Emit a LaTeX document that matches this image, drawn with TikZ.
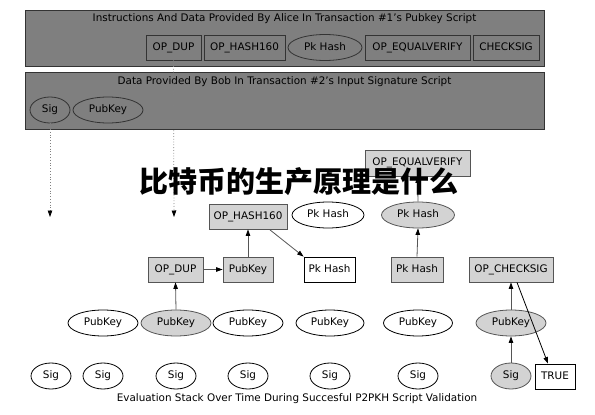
\documentclass[tikz,border=0pt]{standalone}
\usepackage{fontspec}
\setmainfont{DejaVu Sans}
\newfontfamily\cjk{Noto Sans CJK SC}
\usetikzlibrary{shapes.geometric,arrows.meta}
\definecolor{panel}{HTML}{7F7F7F}
\definecolor{panelline}{HTML}{333333}
\definecolor{lgray}{HTML}{D3D3D3}
\definecolor{edge}{HTML}{555555}
\tikzset{
  txt/.style={font=\fontsize{10.4}{12}\selectfont, text height=7.6pt, text depth=2pt},
  lbl/.style={txt, inner sep=0pt},
  panelbox/.style={draw=panelline, fill=panel, line width=0.8pt, inner sep=0pt},
  pbox/.style={txt, draw=panelline, fill=panel, line width=0.8pt, inner sep=0pt, minimum height=25pt},
  pell/.style={txt, ellipse, draw=panelline, fill=panel, line width=0.8pt, inner sep=0pt, minimum height=26pt},
  gbox/.style={txt, draw=edge, fill=lgray, line width=0.8pt, inner sep=0pt, minimum height=25pt},
  wbox/.style={txt, draw=black, fill=white, line width=0.8pt, inner sep=0pt, minimum height=25pt},
  gell/.style={txt, ellipse, draw=edge, fill=lgray, line width=0.8pt, inner sep=0pt, minimum height=26pt},
  well/.style={txt, ellipse, draw=black, fill=white, line width=0.8pt, inner sep=0pt, minimum height=26pt},
  arr/.style={draw=edge, line width=0.8pt, -{Triangle[length=6.5pt,width=4.5pt,fill=black,color=black]}},
  dotarr/.style={draw=gray, line width=0.8pt, dotted, -{Triangle[length=6.5pt,width=4.5pt,fill=black,color=black]}},
}
\begin{document}
\begin{tikzpicture}[x=1pt,y=-1pt]
\useasboundingbox (0,0) rectangle (595,415);
% panels
\node[panelbox, minimum width=519pt, minimum height=56pt] (alice) at (284.5,38) {};
\node[lbl] (alicet) at (284.5,18.5) {Instructions And Data Provided By Alice In Transaction \#1's Pubkey Script};
\node[pbox, minimum width=55pt] (adup) at (173.5,47.5) {OP\_DUP};
\node[pbox, minimum width=81pt] (ahash) at (244.5,47.5) {OP\_HASH160};
\node[pell, minimum width=74pt] (apkh) at (325,47.5) {Pk Hash};
\node[pbox, minimum width=105pt] (aeqv) at (417.5,47.5) {OP\_EQUALVERIFY};
\node[pbox, minimum width=66pt] (achk) at (506,47.5) {CHECKSIG};

\node[panelbox, minimum width=519pt, minimum height=57pt] (bob) at (284.5,100.5) {};
\node[lbl] (bobt) at (284.5,81.5) {Data Provided By Bob In Transaction \#2's Input Signature Script};
\node[pell, minimum width=40pt] (bsig) at (50,110) {Sig};
\node[pell, minimum width=70pt] (bpub) at (108,110) {PubKey};

\coordinate (d1) at (50,217);
\coordinate (d2) at (174,217);
\draw[dotarr] (bsig.south) -- (d1);
\draw[dotarr] (adup.south) -- (d2);

% evaluation stack
\node[gbox, minimum width=105pt, minimum height=26pt] (eqv) at (417.5,163) {OP\_EQUALVERIFY};
\node[gbox, minimum width=78pt] (h160) at (248,216.5) {OP\_HASH160};
\node[well, minimum width=72pt] (pkhe1) at (328,215) {Pk Hash};
\node[gell, minimum width=73pt] (pkhe2) at (418,215) {Pk Hash};

\node[gbox, minimum width=55pt] (dup) at (175.5,269.5) {OP\_DUP};
\node[gbox, minimum width=50pt] (pubb) at (248,269.5) {PubKey};
\node[wbox, minimum width=51pt] (pkhb1) at (329.5,269.5) {Pk Hash};
\node[gbox, minimum width=52pt] (pkhb2) at (417,269.5) {Pk Hash};
\node[gbox, minimum width=84pt] (chk) at (511,269.5) {OP\_CHECKSIG};

\node[well, minimum width=70pt] (p1) at (103,323) {PubKey};
\node[gell, minimum width=70pt] (p2) at (176,323) {PubKey};
\node[well, minimum width=70pt] (p3) at (248,323) {PubKey};
\node[well, minimum width=68pt] (p4) at (330,323) {PubKey};
\node[well, minimum width=69pt] (p5) at (418,323) {PubKey};
\node[gell, minimum width=70pt] (p6) at (511,323) {PubKey};

\node[well, minimum width=40pt] (s1) at (51,376) {Sig};
\node[well, minimum width=40pt] (s2) at (103,376) {Sig};
\node[well, minimum width=40pt] (s3) at (176,376) {Sig};
\node[well, minimum width=40pt] (s4) at (248,376) {Sig};
\node[well, minimum width=40pt] (s5) at (330,376) {Sig};
\node[well, minimum width=40pt] (s6) at (418,376) {Sig};
\node[gell, minimum width=40pt] (s7) at (511,376) {Sig};
\node[wbox, minimum width=40pt] (true) at (555,376.5) {TRUE};

\node[lbl] (cap) at (297,398.5) {Evaluation Stack Over Time During Succesful P2PKH Script Validation};

% edges
\draw[arr] (p2.north) -- (dup.south);
\draw[arr] (dup.east) -- (pubb.west);
\draw[arr] (pubb.north) -- (h160.south);
\draw[arr] (h160.south east) ++(-18,0) -- (pkhb1.north west);
\draw[arr] (pkhb2.north) -- (pkhe2.south);
\draw[arr] (pkhe2.north) -- (eqv.south);
\draw[arr] (s7.north) -- (p6.south);
\draw[arr] (p6.north) -- (chk.south);
\draw[arr, draw=black] ([xshift=6pt]chk.south) -- ([xshift=-7pt]true.north);

% watermark title
\node[inner sep=0pt, font=\cjk\bfseries\fontsize{29}{31}\selectfont, text=black] (wm) at (299,182) {比特币的生产原理是什么};
\end{tikzpicture}
\end{document}
